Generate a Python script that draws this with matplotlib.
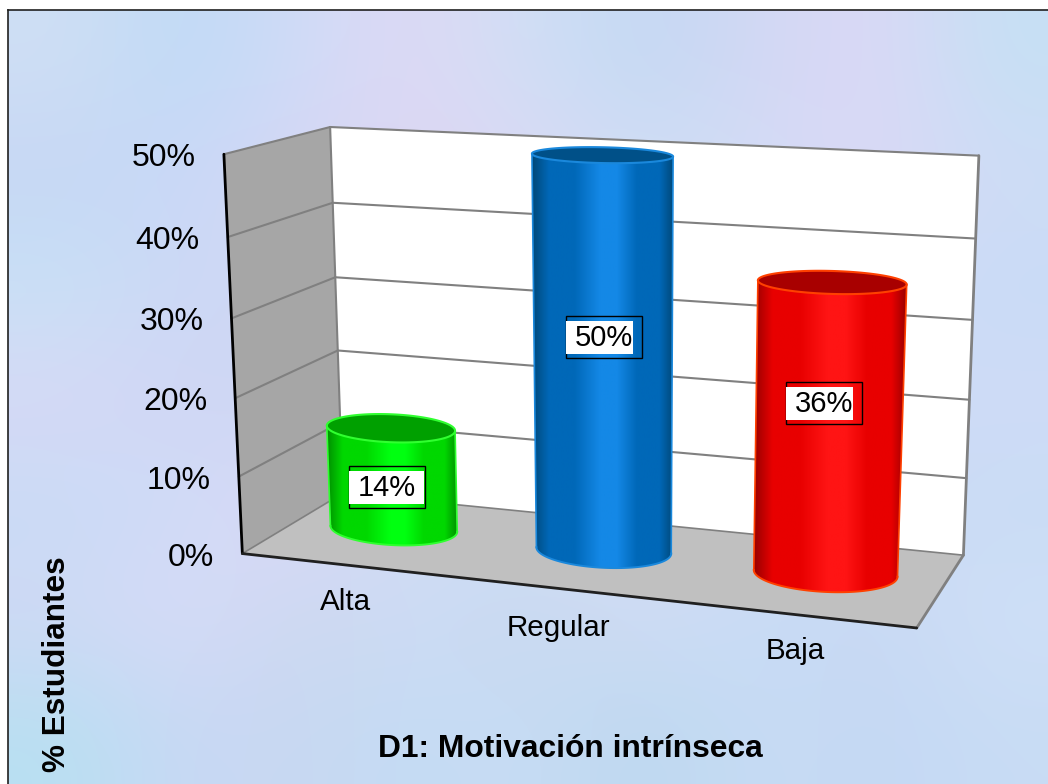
import numpy as np
import matplotlib as mpl
mpl.use("Agg")
import matplotlib.pyplot as plt
from matplotlib.patches import Polygon, Rectangle
from matplotlib.colors import to_rgb

plt.rcParams['font.family'] = ['Liberation Sans', 'DejaVu Sans']

categories = ["Alta", "Regular", "Baja"]
values = [14, 50, 36]
value_labels = ["14%", "50%", "36%"]
ticks = [0, 10, 20, 30, 40, 50]
tick_labels = ["0%", "10%", "20%", "30%", "40%", "50%"]
x_title = "D1: Motivación intrínseca"
y_title = "% Estudiantes"

# pale cloudy backdrop, colours on a coarse grid
bg_rows = [
    ["cfdff4", "bfdaf6", "cfdcf8", "dfd8f4", "d0e0f6", "c3d8f2", "d2d8f4", "dcd8f6", "c6e0f4"],
    ["c6d6f4", "c9d9f8", "d6d6f4", "dcd6f2", "dcd8f4", "cfe0f6", "d4dcf6", "dcd8f6", "cfdcf6"],
    ["c8e2f6", "ccd8f6", "d0d8f4", "d8d8f4", "d4e0f6", "d4dcf6", "d0dcf4", "d0dcf6", "c8dcf6"],
    ["d8d8f6", "d0d6f4", "ccd8f4", "d8e0f4", "d4e0f6", "ccdcf4", "d4dcf6", "ccdaf4", "d0dcf8"],
    ["c8dcf6", "d0dcf8", "dcd8f6", "cedcf6", "cfe0f6", "d8dcf4", "ccdcf4", "d0dcf8", "c8dcf4"],
    ["d0d8f4", "d8dcf8", "ccd8f0", "cfdcf4", "c8d8f0", "d0dcf4", "c8dcf6", "c8d8f2", "d0e0f8"],
    ["b8e0f2", "c8d8f4", "c8d8f2", "c4dcf4", "c8dcf4", "bcd8f0", "c8dcf4", "c4d8f4", "c8dcf4"],
]

# colours: side, centre, top, rim
bar_dark = ["#009000", "#004878", "#980000"]
bar_mid = ["#00d800", "#0068b8", "#e80000"]
bar_light = ["#00ff10", "#1488e6", "#ff1414"]
bar_top = ["#00a000", "#005088", "#a80000"]
bar_rim = ["#30ff30", "#1a88dc", "#ff4000"]

# where the box corners of the 3D chart land on the picture
corners_3d = [(0, 0, 0), (0, 1, 0), (0, 1, 1), (0, 0, 1), (1, 1, 1), (1, 0, 1), (1, 0, 0)]
corners_px = [(241, 551), (225, 155), (329, 126), (344, 496), (979, 156), (963, 553), (917, 630)]

# small nudges in pixels so the cylinders sit where they do in the picture
bar_dx = [-6, -3.5, -2.5]
top_dy = [4, 2, 0]


def fit_camera(world, image):
    rows = []
    rhs = []
    for (u, v, d), (x, y) in zip(world, image):
        rows.append([u, v, d, 1, 0, 0, 0, 0, -x * u, -x * v, -x * d])
        rows.append([0, 0, 0, 0, u, v, d, 1, -y * u, -y * v, -y * d])
        rhs += [x, y]
    p = np.linalg.lstsq(np.array(rows, float), np.array(rhs, float), rcond=None)[0]
    return np.append(p, 1).reshape(3, 4)


cam = fit_camera(corners_3d, corners_px)


def project(u, v, d):
    """u across categories, v in percent, d depth; all may be arrays."""
    u, v, d = np.broadcast_arrays(u, v, d)
    pts = np.stack([u, np.asarray(v) / ticks[-1], d, np.ones_like(u, dtype=float)])
    xyw = cam @ pts
    return xyw[0] / xyw[2], xyw[1] / xyw[2]


def face(ax, pts3, color, z):
    xs, ys = project(*np.array(pts3, float).T)
    ax.add_patch(Polygon(np.c_[xs, ys], closed=True, fc=color, ec="none", zorder=z))


def line3(ax, p0, p1, color, lw, z):
    xs, ys = project(*np.array([p0, p1], float).T)
    ax.plot(xs, ys, color=color, lw=lw, zorder=z, solid_capstyle="round")


def disc(uc, val, t):
    # long axis nearly level (less tilt than the floor edge), short axis straight up
    ru, rd, dc, tilt = 0.104, 0.26, 0.56, 0.45
    cx, cy = project(uc, val, dc)
    ax_x, ax_y = project(uc + ru, val, dc)
    _, by = project(uc, val, dc - rd)
    return cx + (ax_x - cx) * np.cos(t), cy + tilt * (ax_y - cy) * np.cos(t) - (by - cy) * np.sin(t)


def cylinder(ax, i, z):
    uc = (i + 0.5) / len(categories)
    val = values[i]

    t = np.linspace(np.pi, 2 * np.pi, 121)
    bx, by = disc(uc, 0, t)
    tx, ty = disc(uc, val, t)
    bx, tx = bx + bar_dx[i], tx + bar_dx[i]
    ty = ty + top_dy[i]
    outline = np.r_[np.c_[bx, by], np.c_[tx, ty][::-1]]

    stops = [0.0, 0.12, 0.3, 0.48, 0.6, 0.74, 0.9, 1.0]
    dark, mid, light = to_rgb(bar_dark[i]), to_rgb(bar_mid[i]), to_rgb(bar_light[i])
    ramp = np.array([dark, mid, mid, light, light, mid, mid, dark])
    f = np.linspace(0, 1, 256)
    strip = np.stack([np.interp(f, stops, ramp[:, c]) for c in range(3)], axis=1)[None, :, :]
    body = Polygon(outline, closed=True, fc="none", ec="none", zorder=z)
    ax.add_patch(body)
    im = ax.imshow(strip, extent=(outline[:, 0].min(), outline[:, 0].max(), outline[:, 1].max(), outline[:, 1].min()),
                   aspect="auto", interpolation="bilinear", zorder=z)
    im.set_clip_path(body)

    full = np.linspace(0, 2 * np.pi, 181)
    ex, ey = disc(uc, val, full)
    ax.add_patch(Polygon(np.c_[ex + bar_dx[i], ey + top_dy[i]], closed=True, fc=bar_top[i], ec=bar_rim[i], lw=1.5, zorder=z + 1))
    ax.plot(bx, by, color=bar_rim[i], lw=1.4, zorder=z + 1)
    ax.plot([bx[0], tx[0]], [by[0], ty[0]], color=bar_rim[i], lw=1.2, zorder=z + 1)
    ax.plot([bx[-1], tx[-1]], [by[-1], ty[-1]], color=bar_rim[i], lw=1.2, zorder=z + 1)


width, height, dpi = 1048, 784, 100
fig = plt.figure(figsize=(width / dpi, height / dpi), dpi=dpi, facecolor="white")
ax = fig.add_axes([0, 0, 1, 1])
ax.set_axis_off()

# backdrop and frame
bg = np.array([[to_rgb("#" + c) for c in row] for row in bg_rows])
ax.imshow(bg, extent=(8, width, height, 10), interpolation="bicubic", aspect="auto", zorder=0)
ax.plot([8, 8], [height, 10], color="#202020", lw=1.2, zorder=1)
ax.plot([8, width], [10, 10], color="#202020", lw=1.2, zorder=1)

# walls and floor
top = ticks[-1]
face(ax, [(0, 0, 0), (0, top, 0), (0, top, 1), (0, 0, 1)], "#a6a6a6", 2)
face(ax, [(0, 0, 1), (0, top, 1), (1, top, 1), (1, 0, 1)], "white", 2)
face(ax, [(0, 0, 0), (0, 0, 1), (1, 0, 1), (1, 0, 0)], "#c0c0c0", 2)

grid_c = "#808080"
for t in ticks[1:]:
    line3(ax, (0, t, 0), (0, t, 1), grid_c, 1.5, 3)
    line3(ax, (0, t, 1), (1, t, 1), grid_c, 1.5, 3)
line3(ax, (0, 0, 0), (0, 0, 1), grid_c, 1.2, 3)
line3(ax, (0, 0, 1), (1, 0, 1), grid_c, 1.2, 3)
line3(ax, (0, 0, 1), (0, top, 1), grid_c, 1.5, 3)
line3(ax, (1, 0, 1), (1, top, 1), grid_c, 2, 3)
line3(ax, (1, 0, 0), (1, 0, 1), grid_c, 2, 3)
line3(ax, (0, 0, 0), (0, top, 0), "black", 2, 4)
line3(ax, (0, 0, 0), (1, 0, 0), "#202020", 2, 4)

# value axis labels
for t, lab in zip(ticks, tick_labels):
    x, y = project(0, t, 0)
    ax.text(x - 28, y + 4, lab, fontsize=23, ha="right", va="center", color="black", zorder=5)

# category labels under the front edge of the floor
cat_dx = [0, -4, 1]
cat_dy = [37, 39, 36]
for i, name in enumerate(categories):
    x, y = project((i + 0.5) / len(categories), 0, 0)
    ax.text(x + cat_dx[i], y + cat_dy[i], name, fontsize=21.3, ha="center", va="center", zorder=5)

# cylinders
for i in range(len(values)):
    cylinder(ax, i, 10 + 2 * i)

# data labels: black outline with a white plate that sits a bit off it
label_dx = [-6, 2, -3.5]
label_dy = [8, -21.5, -30]
for i, lab in enumerate(value_labels):
    uc = (i + 0.5) / len(categories)
    x, y = project(uc, values[i] / 2, 0.5)
    x, y = x + label_dx[i], y + label_dy[i]
    ax.add_patch(Rectangle((x - 38, y - 22), 76, 42, fc="none", ec="black", lw=1.0, zorder=21))
    ax.add_patch(Rectangle((x - 38, y - 17), 67 if i else 75, 33, fc="white", ec="none", zorder=22))
    ax.text(x, y, lab, fontsize=21, ha="center", va="center", color="black", zorder=23)

ax.text(570, 749, x_title, fontsize=22.9, fontweight="bold", ha="center", va="center", zorder=5)
ax.text(57, 664, y_title, fontsize=22.7, fontweight="bold", rotation=90, ha="center", va="center", zorder=5)

ax.set_xlim(0, width)
ax.set_ylim(height, 0)
fig.savefig("out.png", dpi=dpi)
